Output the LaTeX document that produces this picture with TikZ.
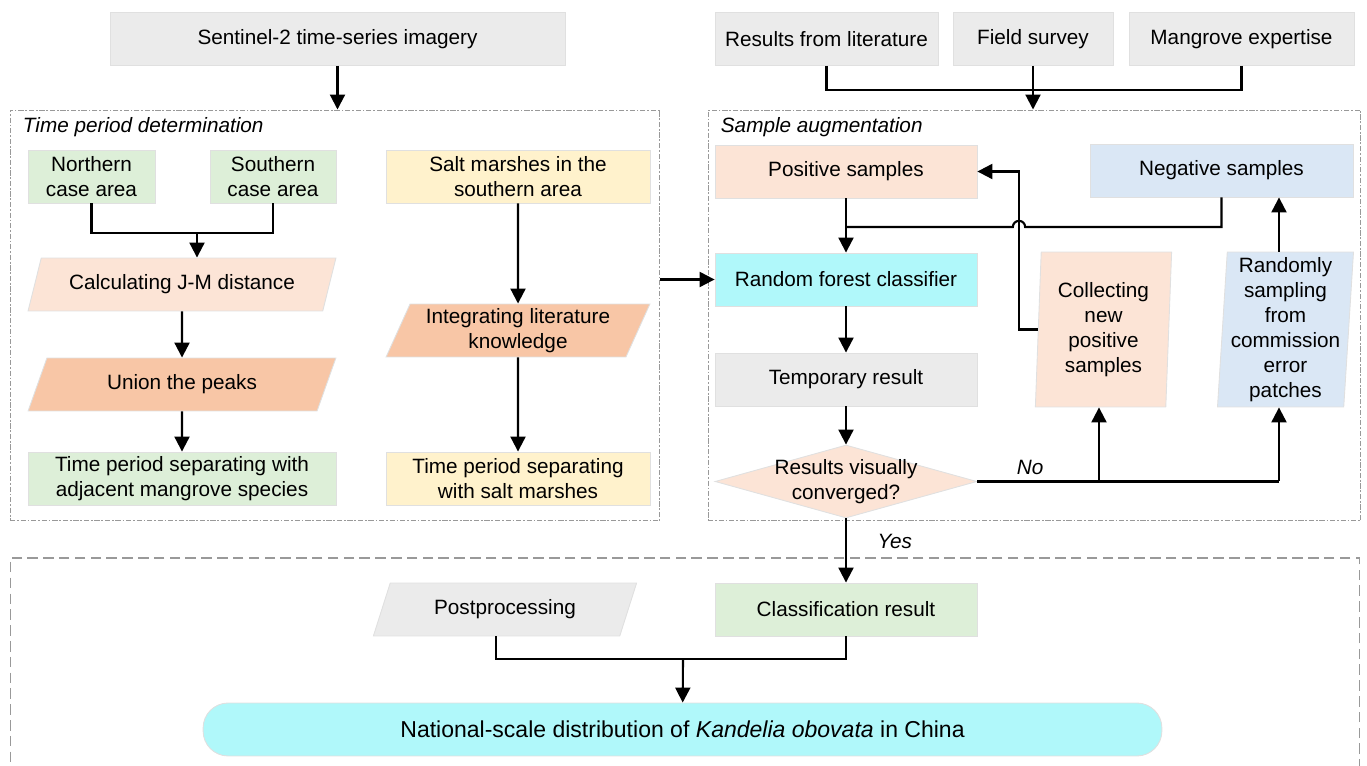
\documentclass[tikz,border=0pt]{standalone}
\usepackage{fontspec}
\setmainfont{Liberation Sans}
\usetikzlibrary{arrows.meta,shapes.geometric,positioning,calc}

\definecolor{cgray}{RGB}{235,235,235}
\definecolor{cgreen}{RGB}{221,239,216}
\definecolor{cpeach}{RGB}{252,228,214}
\definecolor{csalmon}{RGB}{248,198,166}
\definecolor{cyellow}{RGB}{255,242,204}
\definecolor{cblue}{RGB}{218,231,245}
\definecolor{ccyan}{RGB}{176,248,250}

\begin{document}
\begin{tikzpicture}[x=0.02cm,y=-0.02cm,>={Triangle[length=0.3cm,width=0.3cm]},
                    line width=1.2pt,
                    every node/.style={font=\fontsize{11.8}{14.2}\selectfont},
                    box/.style={rectangle,draw=black!12,line width=0.5pt,align=center,
                      minimum height=1.06cm,inner sep=2pt},
                    slantbox/.style={trapezium,trapezium left angle=67.5,
                      trapezium right angle=112.5,trapezium stretches=true,
                      draw=black!12,line width=0.5pt,align=center,
                      minimum height=1.06cm,inner sep=2pt},
                    decision/.style={diamond,draw=black!12,line width=0.5pt,
                      minimum width=5.24cm,minimum height=1.46cm,inner sep=0pt},
                    groupbox/.style={draw=black!40,line width=0.6pt,
                      dash pattern=on 3pt off 1pt on 1pt off 1pt},
                    tag/.style={font=\itshape\fontsize{11.8}{14.2}\selectfont}
                    ]
  \useasboundingbox (0,0) rectangle (1367,766);

  % group frames
  \node[groupbox,minimum width=13cm,minimum height=8.22cm] (tpd) at (335,315.5) {};
  \node[groupbox,minimum width=13.06cm,minimum height=8.22cm] (aug) at (1034.5,315.5) {};
  \node[groupbox,dash pattern=on 6pt off 3pt,minimum width=27cm,minimum height=4.44cm] (final) at (685,669) {};
  \node[tag,anchor=west] (tpdtitle) at (16,127) {Time period determination};
  \node[tag,anchor=west] (augtitle) at (714,127) {Sample augmentation};

  % inputs
  \node[box,fill=cgray,minimum width=9.1cm] (s2) at (337.5,39) {Sentinel-2 time-series imagery};
  \node[box,fill=cgray,minimum width=4.46cm] (lit) at (826.5,39) {Results from literature};
  \node[box,fill=cgray,minimum width=3.2cm] (field) at (1033,39) {Field survey};
  \node[box,fill=cgray,minimum width=4.5cm] (expert) at (1241.5,39) {Mangrove expertise};

  % time period determination
  \node[box,fill=cgreen,minimum width=2.54cm] (north) at (91.5,176.5) {Northern\\case area};
  \node[box,fill=cgreen,minimum width=2.52cm] (south) at (273,176.5) {Southern\\case area};
  \node[slantbox,fill=cpeach,minimum width=6.16cm] (jmd) at (182,284.5) {Calculating J-M distance};
  \node[slantbox,fill=csalmon,minimum width=6.16cm] (union) at (182,384.5) {Union the peaks};
  \node[box,fill=cgreen,minimum width=6.16cm] (sepmang) at (182,478.5) {Time period separating with\\adjacent mangrove species};
  \node[box,fill=cyellow,minimum width=5.28cm] (salt) at (518,176.5) {Salt marshes in the\\southern area};
  \node[slantbox,fill=csalmon,minimum width=5.28cm] (integ) at (518,330.5) {Integrating literature\\knowledge};
  \node[box,fill=cyellow,minimum width=5.28cm] (sepsalt) at (518,478.5) {Time period separating\\with salt marshes};

  % sample augmentation
  \node[box,fill=cpeach,minimum width=5.24cm] (pos) at (846,171.5) {Positive samples};
  \node[box,fill=cblue,minimum width=5.26cm] (neg) at (1221.5,170.5) {Negative samples};
  \node[box,fill=ccyan,minimum width=5.24cm] (rf) at (846,279.5) {Random forest classifier};
  \node[box,fill=cgray,minimum width=5.24cm] (temp) at (846,379.5) {Temporary result};
  \node[decision,fill=cpeach,label={[align=center]center:{Results visually\\converged?}}] (conv) at (846,481.5) {};
  \node[slantbox,fill=cpeach,trapezium left angle=87.4,trapezium right angle=92.6,
        minimum width=2.74cm,minimum height=3.1cm] (collect) at (1103.5,329.5) {Collecting\\new\\positive\\samples};
  \node[slantbox,fill=cblue,trapezium left angle=86.3,trapezium right angle=93.7,
        minimum width=2.7cm,minimum height=3.1cm] (randsamp) at (1285.5,329.5) {Randomly\\sampling\\from\\commission\\error\\patches};

  % final
  \node[slantbox,fill=cgray,minimum width=5.32cm] (post) at (505,609.5) {Postprocessing};
  \node[box,fill=cgreen,minimum width=5.24cm] (cls) at (846,609.5) {Classification result};
  \node[box,fill=ccyan,minimum width=19.18cm,rounded corners=0.5cm,
        font=\fontsize{13.1}{15.7}\selectfont] (nat) at (682.5,729.5) {National-scale distribution of \textit{Kandelia obovata} in China};

  \coordinate (srcJoin) at (1033,90);
  \coordinate (caseJoin) at (197,233);
  \coordinate (negJoin) at (846,227);
  \coordinate (hop) at (1019,227);
  \coordinate (noSplit) at (1099,481.5);
  \coordinate (noTurn) at (1279,481.5);
  \coordinate (finJoin) at (683,659);

  \draw[->] (s2) -- (s2 |- tpd.north);
  \draw (lit) |- (srcJoin);
  \draw (expert) |- (srcJoin);
  \draw[->] (field) -- (field |- aug.north);

  \draw (north) |- (caseJoin);
  \draw (south) |- (caseJoin);
  \draw[->] (caseJoin) -- (caseJoin |- jmd.north);
  \draw[->] (jmd) -- (union);
  \draw[->] (union) -- (sepmang);
  \draw[->] (salt) -- (integ);
  \draw[->] (integ) -- (sepsalt);
  \draw[->] (tpd.east |- rf) -- (rf);

  \draw[->] (pos) -- (rf);
  \draw (neg) |- ([xshift=3.5pt]hop) arc[start angle=0,end angle=180,radius=3.5pt] -- (negJoin);
  \draw[->] (collect.west) -| (hop) |- (pos.east);
  \draw[->] (rf) -- (temp);
  \draw[->] (temp) -- (conv);
  \draw (conv) -- node[tag,pos=0.175,above] {No} (noTurn);
  \draw[->] (noSplit) -- (noSplit |- collect.south);
  \draw[->] (noTurn) -- (noTurn |- randsamp.south);
  \draw[->] (noTurn |- randsamp.north) -- (noTurn |- neg.south);
  \draw[->] (conv) -- node[tag,pos=0.36,right=14pt] {Yes} (cls);

  \draw ($(post.bottom left corner)!.5!(post.bottom right corner)$) |- (finJoin);
  \draw (cls) |- (finJoin);
  \draw[->] (finJoin) -- (nat);
\end{tikzpicture}
\end{document}
